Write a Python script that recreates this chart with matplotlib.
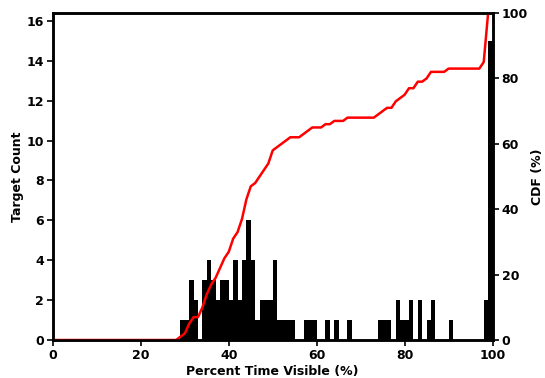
import numpy as np
import matplotlib
matplotlib.use("Agg")
import matplotlib.pyplot as plt

# Histogram of visibility per target (1 % bins, 0-100)
bin_left = [29, 30, 31, 32, 34, 35, 36, 37, 38, 39, 40, 41, 42, 43, 44, 45,
            46, 47, 48, 49, 50, 51, 52, 53, 54, 57, 58, 59, 62, 64, 67,
            74, 75, 76, 78, 79, 80, 81, 83, 85, 86, 90, 98, 99]
bin_count = [1, 1, 3, 2, 3, 4, 3, 2, 3, 3, 2, 4, 2, 4, 6, 4,
             1, 2, 2, 2, 4, 1, 1, 1, 1, 1, 1, 1, 1, 1, 1,
             1, 1, 1, 2, 1, 1, 2, 2, 1, 2, 1, 2, 15]

counts = np.zeros(100)
counts[bin_left] = bin_count
edges = np.arange(100)
cdf = np.cumsum(counts) / counts.sum() * 100

plt.rcParams['font.family'] = 'DejaVu Sans'
plt.rcParams['font.weight'] = 'bold'

fig = plt.figure(figsize=(5.45, 3.78), dpi=100)
ax = fig.add_axes([0.0972, 0.1005, 0.8065, 0.8651])
ax.bar(edges, counts, width=1.0, align='edge', color='black', linewidth=0)
ax.set_xlim(0, 100)
ax.set_ylim(0, 16.4)
ax.set_xticks(range(0, 101, 20))
ax.set_yticks(range(0, 17, 2))
ax.set_xlabel('Percent Time Visible (%)', fontsize=9, fontweight='bold', labelpad=2)
ax.set_ylabel('Target Count', fontsize=9, fontweight='bold', labelpad=2)

ax2 = ax.twinx()
ax2.plot(edges, cdf, color='red', linewidth=1.8)
ax2.set_ylim(0, 100)
ax2.set_yticks(range(0, 101, 20))
ax2.set_ylabel('CDF (%)', fontsize=9, fontweight='bold', labelpad=2)

for a in (ax, ax2):
    for s in a.spines.values():
        s.set_linewidth(1.8)
    a.tick_params(labelsize=9, width=1.2, length=4, pad=2.5)
    for lab in a.get_xticklabels() + a.get_yticklabels():
        lab.set_fontweight('bold')

fig.savefig('out.png', dpi=100)
